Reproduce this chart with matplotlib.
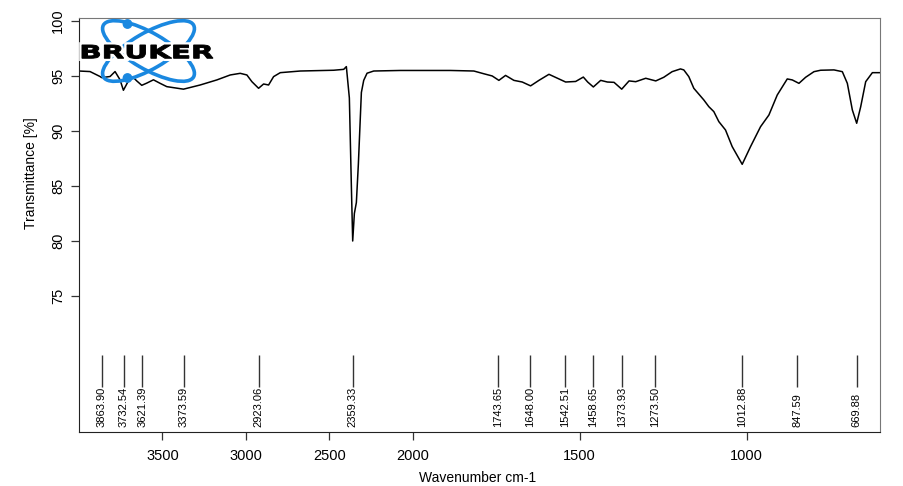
import numpy as np
import matplotlib
matplotlib.use("Agg")
import matplotlib.pyplot as plt
from matplotlib.patches import Ellipse, Circle, PathPatch
from matplotlib.textpath import TextPath
from matplotlib.font_manager import FontProperties
from matplotlib.transforms import Affine2D, IdentityTransform

# spectrum (wavenumber cm-1, transmittance %)
wavenumber = [4000, 3934, 3874, 3864, 3814, 3784, 3754, 3734, 3704, 3674,
              3654, 3624, 3594, 3554, 3514, 3474, 3374, 3274, 3174, 3094,
              3034, 2994, 2964, 2924, 2894, 2864, 2834, 2794, 2674, 2474,
              2414, 2398, 2380, 2368, 2360, 2350, 2338, 2326, 2308, 2294,
              2274, 2234, 2074, 2000, 1887, 1817, 1787, 1762, 1742, 1722,
              1697, 1672, 1647, 1622, 1592, 1567, 1542, 1512, 1489, 1476,
              1459, 1437, 1417, 1397, 1374, 1352, 1332, 1302, 1272, 1248,
              1223, 1198, 1188, 1173, 1158, 1128, 1113, 1098, 1083, 1063,
              1043, 1013, 988, 958, 933, 908, 878, 863, 843, 823,
              798, 778, 738, 713, 698, 683, 670, 658, 643, 623, 600]
transmittance = [95.45, 95.4, 94.95, 94.85, 94.95, 95.4, 94.65, 93.7, 94.55, 94.85,
                 94.55, 94.15, 94.35, 94.65, 94.33, 94.03, 93.8, 94.18, 94.64, 95.09,
                 95.24, 95.09, 94.48, 93.88, 94.27, 94.18, 94.94, 95.3, 95.45, 95.52,
                 95.6, 95.85, 93.0, 85.0, 80.0, 82.5, 83.5, 87.0, 93.5, 94.6,
                 95.25, 95.45, 95.5, 95.5, 95.5, 95.45, 95.2, 95.0, 94.6, 95.05,
                 94.6, 94.45, 94.1, 94.6, 95.15, 94.8, 94.45, 94.5, 94.9, 94.45,
                 94.0, 94.6, 94.45, 94.42, 93.8, 94.55, 94.48, 94.79, 94.55, 94.88,
                 95.39, 95.64, 95.55, 94.94, 93.88, 92.82, 92.21, 91.76, 90.85, 90.09,
                 88.58, 86.97, 88.58, 90.39, 91.45, 93.27, 94.73, 94.64, 94.33, 94.88,
                 95.39, 95.52, 95.55, 95.39, 94.33, 91.91, 90.7, 92.2, 94.48, 95.3, 95.3]

peak_positions = [3863.90, 3732.54, 3621.39, 3373.59, 2923.06, 2359.33,
                  1743.65, 1648.00, 1542.51, 1458.65, 1373.93, 1273.50,
                  1012.88, 847.59, 669.88]
x_ticks = [3500, 3000, 2500, 2000, 1500, 1000]
y_ticks = [75, 80, 85, 90, 95, 100]


# OPUS style axis: the range above 2000 is drawn at half scale
def forward(x):
    x = np.asarray(x, dtype=float)
    return np.where(x > 2000, 2000 + (x - 2000) / 2.0, x)


def inverse(f):
    f = np.asarray(f, dtype=float)
    return np.where(f > 2000, 2000 + (f - 2000) * 2.0, f)


plt.rcParams['font.family'] = ['Liberation Sans', 'DejaVu Sans']

fig = plt.figure(figsize=(9.04, 4.86), dpi=100)
ax = fig.add_axes([0.0874, 0.1111, 0.8861, 0.8519])

ax.set_xscale('function', functions=(forward, inverse))
ax.plot(wavenumber, transmittance, color='black', lw=1.1)
ax.set_xlim(4000, 600)
ax.set_ylim(62.64, 100.27)

ax.set_xticks(x_ticks)
ax.set_xticklabels([str(t) for t in x_ticks])
ax.set_yticks(y_ticks)
ax.set_yticklabels([str(t) for t in y_ticks])
ax.xaxis.set_minor_locator(matplotlib.ticker.NullLocator())
ax.tick_params(axis='both', direction='out', length=6, width=0.9,
               labelsize=10.5, color='#333333')
ax.tick_params(axis='x', pad=6)
ax.tick_params(axis='y', labelrotation=90, pad=4)
for lab in ax.get_yticklabels():
    lab.set_va('center')

for side in ['left', 'bottom']:
    ax.spines[side].set_color('#222222')
for side in ['top', 'right']:
    ax.spines[side].set_color('#777777')

ax.set_xlabel('Wavenumber cm-1', fontsize=10)
ax.set_ylabel('Transmittance [%]', fontsize=10)
ax.xaxis.set_label_coords(0.497, -0.095)
ax.yaxis.set_label_coords(-0.051, 0.626)

# peak picking marks
ax.vlines(peak_positions, 0.109, 0.186, transform=ax.get_xaxis_transform(),
          color='#333333', lw=1.0)
for p in peak_positions:
    ax.text(p, 0.012, f'{p:.2f}', transform=ax.get_xaxis_transform(),
            rotation=90, ha='center', va='bottom', fontsize=8)

# Bruker logo (pixel coordinates, origin bottom-left)
H = 486
blue = '#1a88e0'
for ang in (30, -30):
    fig.patches.append(Ellipse((148.5, H - 51), 104, 36, angle=ang, fill=False,
                               ec=blue, lw=2.6, transform=IdentityTransform(),
                               zorder=5))
for cy in (24, 78):
    fig.patches.append(Circle((127.5, H - cy), 4.2, color=blue,
                              transform=IdentityTransform(), zorder=6))

tp = TextPath((0, 0), 'BRUKER', size=1,
              prop=FontProperties(family='DejaVu Sans', weight='bold'))
ext = tp.get_extents()
sx = (213 - 82) / ext.width
sy = (58.5 - 45) / ext.height
tr = Affine2D().translate(-ext.x0, -ext.y0).scale(sx, sy).translate(82, H - 58.5)
logo_text = tr.transform_path(tp)
fig.patches.append(PathPatch(logo_text, fc='white', ec='white', lw=4,
                             transform=IdentityTransform(), zorder=6.5))
fig.patches.append(PathPatch(logo_text, fc='black', ec='black', lw=0.7,
                             transform=IdentityTransform(), zorder=7))

fig.savefig('out.png', dpi=100)
